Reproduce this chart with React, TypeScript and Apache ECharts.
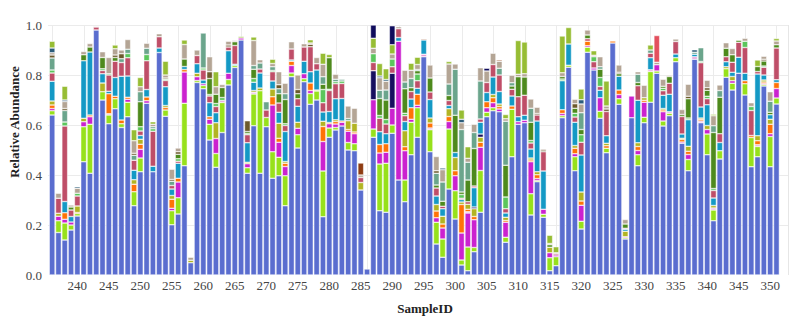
import React, { useEffect, useRef } from "react";
import * as echarts from "echarts";

// ---------- categories ----------
const firstSample = 236;
const lastSample = 351;
const sampleIds: string[] = [];
for (let id = firstSample; id <= lastSample; id++) sampleIds.push(String(id));

const yTicks = [0.2, 0.4, 0.6, 0.8, 1.0];
const gridSampleIds = ["236", "241", "246", "251", "256", "261", "266", "271", "276", "281", "286", "291", "296", "301", "306", "311", "316", "321", "326", "331", "336", "341", "346", "351"];

// ---------- series values (one value per sample 236..351) ----------
const blue = [
  .64, .17, .14, .18, .236, .453, .407, .98, .70, .605,
  .665, .59, .633, .277, .413, .687, .413, .89, .635, .201,
  .244, .437, .049, .77, .745, .54, .431, .57, .76, .83,
  .94, .407, .597, .407, .593, .387, .397, .277, .793, .508,
  .773, .683, .7, .233, .551, .58, .596, .5, .497, .34,
  .024, .551, .257, .251, .567, .38, .293, .481, .551, .873,
  .493, .124, .071, .344, .224, .04, .017, .093, .251, .633,
  .657, .653, .131, .473, .603, .609, .24, .373, .231, .017,
  .037, .629, .831, .417, .184, .891, .82, .627, .489, .928,
  .683, .144, .629, .437, .609, .691, .807, .596, .637, .853,
  .527, .417, .863, .609, .481, .217, .464, .791, .74, .807,
  .72, .433, .473, .756, .433, .684,
];
const lime = [
  .017, .047, .068, .02, .01, .14, .196, 0, .033, .035,
  .04, .015, .058, .056, .055, 0, 0, 0, .025, .056,
  .065, .25, 0, .008, .013, .063, .055, .12, .022, .008,
  0, .022, .127, .33, .037, .106, .074, .12, .015, .053,
  .012, .043, .036, .183, .037, .01, 0, .03, .028, 0,
  0, .033, .187, .196, .033, 0, .087, .13, .118, 0,
  .088, .087, .073, .24, .113, .02, .095, .017, .167, .018,
  .012, 0, .02, .19, 0, 0, .085, .005, .012, .052,
  .036, .008, .008, .056, .031, .02, 0, .028, .018, 0,
  .022, .005, 0, .044, .022, .123, .009, .02, .01, .016,
  0, .045, 0, 0, .083, .043, .033, .034, .027, 0,
  .045, .117, .041, .006, .121, .024,
];
const magenta = [
  .009, .018, .015, .012, 0, .02, .03, 0, 0, 0,
  0, 0, .012, 0, .035, .01, 0, 0, 0, .01,
  .063, .125, 0, .015, .007, .02, .06, 0, .025, 0,
  .008, .016, 0, 0, 0, .187, .06, .037, .03, .026,
  .02, .012, 0, .118, .017, .014, .015, .045, .04, 0,
  0, .117, .044, .044, .067, .555, .117, .012, .01, 0,
  0, .018, .044, .03, .06, .108, .136, .111, .093, .018,
  .02, .011, .06, 0, .01, .01, .128, .008, .02, .02,
  .007, .009, 0, .012, .064, .006, .008, .054, 0, 0,
  .017, .004, .087, .017, .06, 0, .025, .037, 0, 0,
  .005, .02, 0, 0, .018, 0, 0, 0, .01, 0,
  0, 0, 0, .004, .011, .038,
];
const orange = [
  .014, 0, .026, 0, .004, 0, .007, 0, 0, .08,
  .01, .015, .008, .03, .02, .015, 0, 0, .01, .036,
  .015, .01, 0, 0, 0, .01, 0, 0, 0, 0,
  0, 0, 0, 0, 0, .033, .016, .013, .017, 0,
  0, .03, 0, .06, .005, .01, .005, .007, .007, 0,
  0, 0, .034, .034, 0, 0, .016, .046, .044, 0,
  .02, .027, .016, .02, .02, .114, .01, .013, .02, .024,
  .02, .01, .007, .013, 0, 0, .007, .015, 0, 0,
  0, .015, 0, .022, .017, .018, 0, 0, .01, .008,
  .018, 0, 0, .016, .008, 0, 0, .007, 0, 0,
  .01, .013, 0, .007, 0, 0, 0, 0, 0, 0,
  .012, .008, .016, .006, .038, .024,
];
const olive = [
  .016, .012, 0, 0, .026, .014, 0, 0, .035, 0,
  0, 0, 0, .018, .02, 0, 0, 0, .008, .015,
  0, 0, .01, .014, 0, 0, .063, 0, 0, 0,
  0, .006, .007, .011, 0, .031, .06, .007, 0, .024,
  0, 0, .004, .021, 0, .007, 0, .035, .035, .03,
  0, 0, 0, 0, 0, 0, .064, 0, 0, 0,
  .02, .026, .031, .031, .053, .01, .02, .031, .02, 0,
  .013, .01, .013, 0, 0, 0, .008, .012, 0, .022,
  0, 0, 0, .011, .036, 0, 0, 0, .01, 0,
  0, .022, 0, .015, .01, 0, 0, .006, 0, 0,
  .005, .02, 0, .005, .016, .01, 0, .008, .017, 0,
  0, 0, .02, .008, .02, 0,
];
const cyan = [
  .079, 0, .045, .022, 0, .23, .252, 0, .037, .01,
  .075, .175, .085, .038, .015, .03, .022, .018, .075, .026,
  .06, .012, 0, .038, .015, .056, .04, 0, .09, .005,
  0, .078, .033, .06, 0, .032, .044, .12, .005, .064,
  .05, .045, .08, .037, .044, .084, .09, 0, 0, 0,
  0, 0, .051, .04, 0, .015, .037, .035, .024, .057,
  .074, .034, .03, .013, .02, .01, 0, .077, .047, .037,
  .07, .05, .017, .04, .02, .02, .036, .203, .153, 0,
  0, .116, .085, .093, .148, 0, 0, .03, .03, 0,
  .055, .008, 0, .17, 0, .048, 0, .053, .07, .015,
  .017, .106, .01, .044, .083, .03, .033, .02, .017, .064,
  .03, 0, .247, .02, .018, .011,
];
const rose = [
  .033, .06, .302, .026, .04, 0, 0, .012, .013, .065,
  .065, .055, .073, .04, .018, .115, .14, .045, .025, .014,
  .008, 0, 0, .033, .04, .027, .025, 0, .015, .075,
  0, .032, 0, .016, .03, .037, .037, .024, .044, .03,
  .057, .1, .025, .037, .084, .06, .06, 0, 0, .02,
  0, .033, .054, .039, .026, .035, .023, .03, .03, 0,
  .03, .032, .01, .02, 0, .005, .01, .007, .013, .04,
  .05, .066, .017, .027, .08, .08, .024, .024, .077, 0,
  .006, 0, 0, .021, .051, .01, .025, .015, .097, 0,
  0, .004, 0, .058, 0, .018, 0, .018, .044, .05,
  .07, 0, 0, .177, .024, .03, .035, .02, .04, .06,
  .103, .1, .01, .031, 0, .127,
];
const lightGreen = [
  .012, 0, .016, 0, .011, 0, 0, 0, .007, .005,
  0, 0, .017, 0, .017, .025, .01, 0, .005, 0,
  .01, 0, 0, 0, .008, .006, .012, .012, 0, 0,
  0, .005, .015, 0, 0, .005, 0, .007, 0, 0,
  0, 0, 0, .053, .005, .008, .01, 0, 0, 0,
  0, .035, .011, .018, .031, 0, .01, 0, .027, 0,
  0, 0, 0, 0, 0, .015, 0, 0, 0, 0,
  0, 0, .047, 0, 0, 0, .01, 0, 0, 0,
  0, .007, 0, .015, .03, 0, .02, .036, 0, 0,
  0, 0, 0, 0, 0, 0, 0, .01, 0, 0,
  0, .007, 0, .005, .01, .008, 0, 0, 0, 0,
  .025, .016, 0, .005, 0, 0,
];
const darkGreen = [
  0, 0, 0, .012, 0, .024, .02, 0, .045, 0,
  .015, 0, 0, 0, .1, 0, 0, 0, 0, 0,
  .018, .03, 0, 0, 0, .064, .037, .04, 0, .015,
  0, .008, .037, 0, 0, 0, .037, .097, 0, .02,
  0, 0, 0, .021, .126, 0, 0, 0, 0, 0,
  0, 0, .068, .078, 0, 0, .098, .015, .013, 0,
  .056, .012, .02, .02, .149, .01, .087, .15, 0, 0,
  0, 0, .127, .013, .08, .073, .073, 0, 0, .01,
  0, .01, 0, .02, .021, .015, 0, .033, 0, 0,
  .01, .017, 0, .013, 0, 0, 0, .008, .027, 0,
  .008, .077, 0, 0, .024, .224, .146, .034, .03, .008,
  0, 0, .02, .02, .01, .013,
];
const sage = [
  .048, 0, .046, 0, 0, 0, 0, 0, 0, 0,
  0, .015, .017, .02, .04, .025, .008, 0, 0, .017,
  0, 0, 0, 0, .14, 0, 0, 0, 0, 0,
  0, 0, .015, .024, .033, .015, .02, .023, 0, 0,
  0, 0, 0, .03, 0, .01, .007, .009, 0, 0,
  0, 0, .033, .04, 0, 0, .027, .037, .005, 0,
  0, .047, .077, .046, .184, .25, .071, .064, .152, 0,
  0, .027, .176, .013, 0, 0, .056, 0, 0, 0,
  0, 0, 0, 0, .067, 0, 0, .01, 0, 0,
  0, 0, 0, .033, 0, .013, 0, 0, 0, 0,
  0, 0, .008, .055, 0, .027, .027, 0, 0, 0,
  0, 0, 0, 0, .044, 0,
];
const darkBrown = [
  .012, 0, .008, 0, 0, 0, 0, 0, 0, 0,
  .01, .02, 0, .008, 0, 0, 0, 0, .005, .007,
  .01, 0, 0, 0, 0, .027, 0, 0, .008, 0,
  0, .043, 0, 0, 0, 0, .016, 0, 0, .017,
  0, .01, 0, 0, 0, 0, 0, 0, 0, 0,
  0, 0, 0, 0, 0, 0, 0, 0, 0, 0,
  0, .01, 0, 0, 0, 0, 0, 0, 0, 0,
  0, 0, 0, 0, 0, 0, 0, .006, .007, 0,
  0, 0, 0, .018, 0, 0, 0, 0, .01, 0,
  .006, 0, 0, 0, 0, 0, 0, 0, 0, 0,
  0, .01, 0, 0, .01, 0, 0, 0, 0, 0,
  0, 0, 0, .007, 0, 0,
];
const tan = [
  .009, .02, .028, .008, .02, .013, .014, .003, .023, .065,
  .025, .015, .039, .05, .02, .02, .01, .012, .012, .041,
  .015, .058, .012, .022, 0, .06, .03, .012, .015, .005,
  0, 0, .1, .013, 0, .013, .052, .042, .029, .058,
  .013, .005, .025, .05, 0, .02, 0, .05, .06, .01,
  0, .022, .05, .035, .02, .008, .047, .033, .02, 0,
  .052, .057, .049, .08, .021, .027, .016, .033, .053, .046,
  .045, .028, .01, .03, .01, .013, .037, .025, .005, .005,
  .003, .015, 0, .018, .035, .02, .006, .04, .012, 0,
  .029, .018, 0, .01, .05, 0, .01, .028, .005, .01,
  .02, .048, 0, 0, .03, .04, .022, .022, .025, 0,
  .012, .015, 0, .012, .038, .015,
];
const yellowGreen = [
  .027, 0, .055, 0, 0, 0, 0, 0, 0, 0,
  .015, 0, 0, .044, .037, 0, .01, 0, .055, 0,
  0, .018, 0, 0, 0, 0, .06, 0, 0, 0,
  .006, 0, .014, 0, 0, .017, 0, 0, 0, 0,
  0, .013, 0, .044, .013, 0, 0, 0, 0, 0,
  0, .04, .05, .043, .037, 0, 0, .028, .029, 0,
  0, 0, 0, .01, 0, .037, .046, 0, 0, 0,
  0, 0, .017, 0, .135, .127, 0, 0, 0, .033,
  .024, .147, .066, 0, .043, 0, .018, 0, .1, 0,
  0, 0, 0, 0, 0, .02, 0, 0, 0, 0,
  0, 0, 0, 0, 0, .006, 0, 0, 0, 0,
  0, 0, .026, 0, 0, .01,
];
// rare taxa: [sampleId, value]
const pinkPairs: [number, number][] = [[245, .005], [263, .008], [268, .007], [295, .01], [296, .007], [302, .005], [331, .007], [334, .006], [338, .01], [339, .007], [341, .008], [348, .007]];
const navyLowPairs: [number, number][] = [[287, .116], [290, .14], [303, .007], [304, .013]];
const slatePairs: [number, number][] = [[236, .019], [238, .006], [240, .006], [288, .007], [289, .007], [298, .007], [301, .014], [320, .017], [338, .01]];
const navyTopPairs: [number, number][] = [[287, .053], [290, .076], [305, .011]];
const brownPairs: [number, number][] = [[285, .048], [295, .004], [307, .005]];
const redPairs: [number, number][] = [[332, .107]];

const expand = (pairs: [number, number][]) =>
  sampleIds.map((id) => {
    const p = pairs.find((q) => String(q[0]) === id);
    return p ? p[1] : 0;
  });

const taxa = [
  { name: "Taxon 1", color: "#5A6DCF", values: blue },
  { name: "Taxon 2", color: "#97E11B", values: lime },
  { name: "Taxon 3", color: "#CB22CF", values: magenta },
  { name: "Taxon 4", color: "#E59AD8", values: expand(pinkPairs) },
  { name: "Taxon 5", color: "#FF7306", values: orange },
  { name: "Taxon 6", color: "#B2B423", values: olive },
  { name: "Taxon 7", color: "#170F5F", values: expand(navyLowPairs) },
  { name: "Taxon 8", color: "#1499C5", values: cyan },
  { name: "Taxon 9", color: "#BF4E68", values: rose },
  { name: "Taxon 10", color: "#5BC65C", values: lightGreen },
  { name: "Taxon 11", color: "#4E8A1D", values: darkGreen },
  { name: "Taxon 12", color: "#6BA58C", values: sage },
  { name: "Taxon 13", color: "#6C5A2C", values: darkBrown },
  { name: "Taxon 14", color: "#B4A595", values: tan },
  { name: "Taxon 15", color: "#2D5D7B", values: expand(slatePairs) },
  { name: "Taxon 16", color: "#97BD34", values: yellowGreen },
  { name: "Taxon 17", color: "#0F0C5C", values: expand(navyTopPairs) },
  { name: "Taxon 18", color: "#8E3C12", values: expand(brownPairs) },
  { name: "Taxon 19", color: "#E3505E", values: expand(redPairs) },
];

const FONT = '"Liberation Serif", "Times New Roman", serif';

export default function App() {
  const ref = useRef<HTMLDivElement>(null);

  useEffect(() => {
    if (!ref.current) return;
    const chart = echarts.init(ref.current, undefined, { renderer: "svg" });
    chart.setOption({
      animation: false,
      backgroundColor: "#ffffff",
      grid: { left: 49, right: 17.4, top: 25, bottom: 42, containLabel: false },
      xAxis: {
        type: "category",
        data: sampleIds,
        axisLine: { show: false },
        axisTick: { show: false },
        splitLine: { show: false },
        axisLabel: {
          interval: (_i: number, v: string) => Number(v) % 5 === 0,
          fontFamily: FONT,
          fontSize: 13,
          color: "#444",
          margin: 4,
        },
      },
      yAxis: {
        type: "value",
        min: 0,
        max: 1,
        interval: 0.2,
        axisLine: { show: false },
        axisTick: { show: false },
        splitLine: { show: false },
        axisLabel: {
          formatter: (v: number) => v.toFixed(1),
          fontFamily: FONT,
          fontSize: 13,
          color: "#444",
          margin: 7,
        },
      },
      series: taxa.map((t) => ({
        type: "bar",
        name: t.name,
        stack: "total",
        barCategoryGap: "8%",
        data: t.values.map((v) => (v > 0 ? v : null)),
        itemStyle: { color: t.color, borderColor: "#ffffff", borderWidth: 0.5 },
        emphasis: { disabled: true },
        silent: true,
      })),
    });

    const yPix = (v: number) => chart.convertToPixel({ yAxisIndex: 0 }, v) as number;
    const xPix = (id: string) => chart.convertToPixel({ xAxisIndex: 0 }, id) as number;
    const top = yPix(1);
    const bottom = yPix(0);
    const plotLeft = 48;
    const plotRight = 788;
    const lines: any[] = [];
    yTicks.forEach((v) => {
      const y = Math.round(yPix(v)) + 0.5;
      lines.push({ type: "line", z: 0, silent: true, shape: { x1: plotLeft, y1: y, x2: plotRight, y2: y }, style: { stroke: "#ebebeb", lineWidth: 1 } });
    });
    gridSampleIds.forEach((id) => {
      const x = Math.round(xPix(id)) + 0.5;
      lines.push({ type: "line", z: 0, silent: true, shape: { x1: x, y1: top, x2: x, y2: bottom }, style: { stroke: "#ebebeb", lineWidth: 1 } });
    });
    lines.push({ type: "line", z: 0, silent: true, shape: { x1: plotRight + 0.5, y1: top, x2: plotRight + 0.5, y2: bottom }, style: { stroke: "#e6e6e6", lineWidth: 1 } });

    chart.setOption({
      graphic: [
        ...lines,
        {
          type: "text",
          x: 14,
          y: 122,
          rotation: Math.PI / 2,
          silent: true,
          style: {
            text: "Relative Abundance",
            font: `bold 13px ${FONT}`,
            fill: "#222",
            align: "center",
            verticalAlign: "middle",
            textAlign: "center",
            textVerticalAlign: "middle",
          },
        },
        {
          type: "text",
          x: 425,
          y: 308,
          silent: true,
          style: {
            text: "SampleID",
            font: `bold 13px ${FONT}`,
            fill: "#222",
            align: "center",
            verticalAlign: "middle",
            textAlign: "center",
            textVerticalAlign: "middle",
          },
        },
      ],
    });

    return () => chart.dispose();
  }, []);

  return (
    <div
      ref={ref}
      style={{ position: "fixed", left: 0, top: 0, width: 797, height: 317 }}
    />
  );
}
